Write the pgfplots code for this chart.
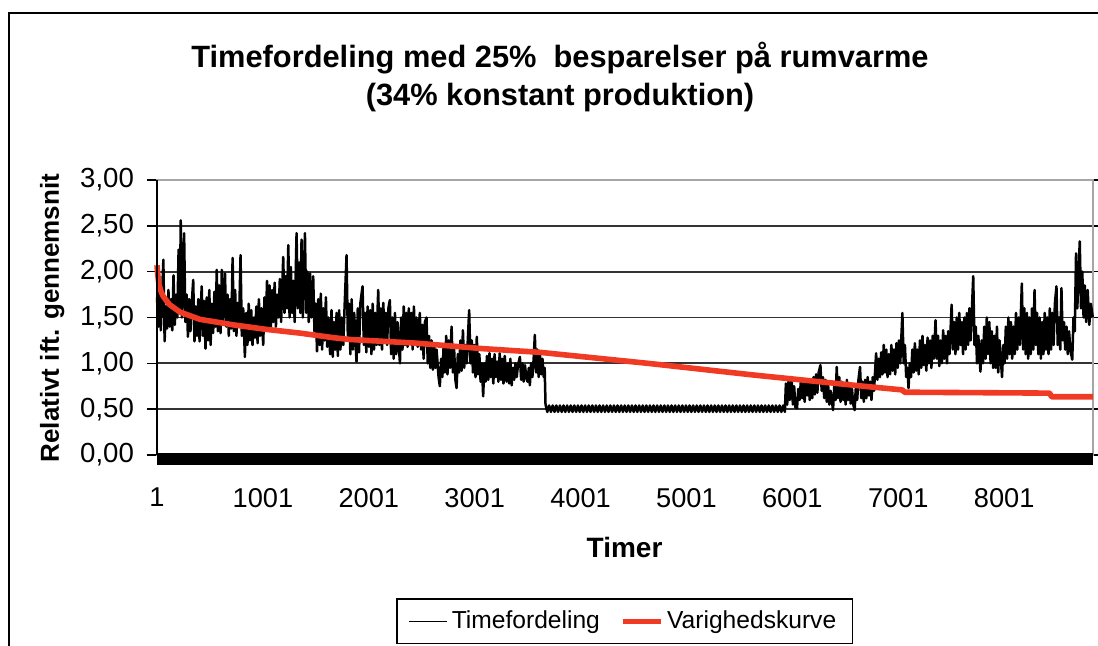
\documentclass[border=0pt]{standalone}
\usepackage{pgfplots}
\pgfplotsset{compat=1.18}
\usepackage{fontspec}
\setmainfont{Liberation Sans}
\definecolor{redc}{RGB}{240,58,36}
\begin{document}
\begin{tikzpicture}
\begin{axis}[
 at={(0,0)}, anchor=south west,
 scale only axis, width=468pt, height=137.5pt,
 xmin=1, xmax=8840, ymin=0, ymax=3,
 clip=false,
 xtick={1,1001,2001,3001,4001,5001,6001,7001,8001},
 ytick={0,0.5,1,1.5,2,2.5,3},
 ymajorgrids, grid style={black!80, line width=0.9pt},
 axis line style={black!35, line width=0.6pt},
 ytick align=outside,
 major tick length=5pt,
 ytick style={black, line width=0.7pt},
 xtick style={draw=none},
 y tick label style={/pgf/number format/.cd, fixed, fixed zerofill, precision=2, use comma, assume math mode=true, /tikz/.cd, font=\fontsize{13.8}{15}\selectfont, xshift=-3pt},
 x tick label style={/pgf/number format/.cd, 1000 sep={}, assume math mode=true, /tikz/.cd, font=\fontsize{13.6}{15}\selectfont, yshift=-13pt},
 xlabel={Timer},
 xlabel style={at={(axis description cs:0.4995,-0.336)}, anchor=center, font=\bfseries\fontsize{14}{16}\selectfont},
 ylabel={Relativt ift. gennemsnit},
 ylabel style={at={(axis description cs:-0.112,0.498)}, anchor=center, font=\bfseries\fontsize{13}{15}\selectfont},
 legend style={at={(axis description cs:0.4995,-0.605)}, anchor=center, draw=black, line width=0.7pt, font=\fontsize{12.3}{14}\selectfont, legend columns=2, /tikz/every even column/.append style={column sep=8pt}, inner xsep=6pt, inner ysep=4pt},
 legend cell align=left,
]
\addplot[black, line width=1.25pt, line join=round,
 legend image code/.code={\draw[black,line width=0.5pt](0pt,0pt)--(19pt,0pt);}]
coordinates {
(1,1.72)(13,1.40)(25,1.85)(37,1.36)(49,1.75)(61,2.13)(73,1.24)(85,1.62)(97,1.38)(109,1.80)(121,1.40)(133,1.70)(145,1.36)(157,1.96)(169,1.42)(181,1.75)(193,1.50)(205,2.24)(217,1.55)(225,2.56)(237,1.50)(249,2.00)(257,2.42)(269,1.45)(281,1.75)(293,1.29)(305,1.70)(317,1.35)(329,1.65)(343,1.91)(355,1.24)(367,1.62)(379,1.30)(391,1.70)(403,1.24)(415,1.60)(423,1.84)(435,1.30)(447,1.68)(459,1.16)(471,1.72)(483,1.25)(495,1.80)(507,1.20)(519,1.65)(531,1.33)(543,1.78)(555,1.40)(565,2.02)(577,1.35)(589,1.85)(601,1.33)(613,2.02)(625,1.45)(643,1.98)(655,1.40)(667,1.75)(679,1.30)(691,1.70)(703,1.38)(715,2.15)(727,1.35)(739,1.80)(751,1.30)(763,1.66)(775,1.40)(790,2.18)(802,1.30)(815,1.60)(831,1.07)(843,1.55)(855,1.20)(867,1.65)(879,1.25)(891,1.58)(903,1.20)(915,1.50)(927,1.28)(939,1.62)(951,1.22)(963,1.70)(975,1.30)(987,1.60)(1004,1.20)(1016,1.72)(1028,1.36)(1040,1.90)(1052,1.40)(1064,1.85)(1076,1.38)(1088,1.80)(1100,1.45)(1112,1.88)(1124,1.40)(1136,1.75)(1148,1.50)(1161,1.92)(1173,1.45)(1193,2.16)(1205,1.55)(1217,1.95)(1229,1.60)(1241,2.29)(1253,1.50)(1265,2.05)(1277,1.55)(1289,1.90)(1301,1.45)(1319,2.42)(1331,1.60)(1343,2.10)(1355,1.55)(1366,2.35)(1378,1.50)(1398,2.42)(1410,1.55)(1422,2.00)(1434,1.45)(1446,1.98)(1458,1.50)(1476,1.95)(1488,1.35)(1500,1.65)(1512,1.13)(1524,1.70)(1536,1.20)(1548,1.76)(1560,1.15)(1572,1.60)(1584,1.25)(1596,1.72)(1608,1.18)(1620,1.50)(1636,1.10)(1649,1.58)(1661,1.07)(1673,1.45)(1685,1.15)(1697,1.55)(1709,1.08)(1721,1.58)(1733,1.15)(1745,1.50)(1760,1.20)(1772,1.60)(1791,2.18)(1803,1.30)(1815,1.65)(1827,1.10)(1839,1.70)(1851,1.15)(1863,1.55)(1885,1.02)(1897,1.60)(1909,1.12)(1921,1.65)(1942,1.84)(1954,1.20)(1966,1.55)(1978,1.12)(1990,1.62)(2002,1.18)(2014,1.58)(2026,1.10)(2038,1.65)(2050,1.15)(2062,1.55)(2074,1.20)(2090,1.80)(2102,1.20)(2114,1.60)(2126,1.15)(2138,1.66)(2150,1.25)(2162,1.55)(2174,1.20)(2186,1.60)(2200,1.69)(2212,1.10)(2224,1.50)(2236,1.05)(2248,1.55)(2260,1.10)(2272,1.45)(2295,1.00)(2307,1.50)(2319,1.15)(2331,1.62)(2343,1.20)(2355,1.55)(2367,1.18)(2379,1.60)(2391,1.25)(2403,1.55)(2415,1.15)(2427,1.62)(2439,1.22)(2451,1.50)(2463,1.18)(2483,1.55)(2495,1.15)(2507,1.42)(2519,1.05)(2531,1.45)(2546,1.50)(2558,1.00)(2570,1.30)(2582,0.95)(2594,1.25)(2606,0.93)(2618,1.20)(2630,0.95)(2641,1.15)(2660,0.85)(2672,0.75)(2684,1.05)(2696,0.85)(2708,1.20)(2720,0.90)(2732,1.30)(2744,0.88)(2756,1.25)(2768,0.95)(2783,1.40)(2795,0.90)(2807,1.15)(2819,0.82)(2830,0.73)(2842,1.10)(2854,0.90)(2866,1.25)(2878,0.92)(2890,1.36)(2902,0.95)(2914,1.20)(2926,1.00)(2949,1.58)(2961,1.00)(2973,1.25)(2985,0.90)(2997,1.20)(3009,0.85)(3021,1.29)(3033,0.88)(3045,1.10)(3057,0.80)(3069,1.00)(3081,0.64)(3093,1.00)(3105,0.80)(3117,1.08)(3129,0.82)(3141,1.11)(3153,0.85)(3165,1.05)(3177,0.78)(3189,1.10)(3201,0.85)(3213,1.02)(3225,0.80)(3237,1.11)(3249,0.82)(3261,1.05)(3273,0.78)(3285,1.08)(3302,0.80)(3314,1.00)(3326,0.78)(3338,1.05)(3350,0.76)(3362,0.95)(3374,0.82)(3386,1.00)(3398,0.85)(3410,0.98)(3428,1.07)(3440,0.82)(3452,1.00)(3464,0.80)(3476,0.98)(3488,0.85)(3500,0.80)(3512,0.95)(3522,0.76)(3534,1.00)(3546,0.85)(3558,1.05)(3569,1.31)(3581,0.90)(3593,1.15)(3605,0.85)(3617,1.10)(3629,0.88)(3641,1.05)(3653,0.85)(3662,0.95)(3670,0.55)
(3687,0.47)(3704,0.54)(3721,0.47)(3738,0.54)(3755,0.47)(3772,0.54)(3789,0.47)(3806,0.54)(3823,0.47)(3840,0.54)(3857,0.47)(3874,0.54)(3891,0.47)(3908,0.54)(3925,0.47)(3942,0.54)(3959,0.47)(3976,0.54)(3993,0.47)(4010,0.54)(4027,0.47)(4044,0.54)(4061,0.47)(4078,0.54)(4095,0.47)(4112,0.54)(4129,0.47)(4146,0.54)(4163,0.47)(4180,0.54)(4197,0.47)(4214,0.54)(4231,0.47)(4248,0.54)(4265,0.47)(4282,0.54)(4299,0.47)(4316,0.54)(4333,0.47)(4350,0.54)(4367,0.47)(4384,0.54)(4401,0.47)(4418,0.54)(4435,0.47)(4452,0.54)(4469,0.47)(4486,0.54)(4503,0.47)(4520,0.54)(4537,0.47)(4554,0.54)(4571,0.47)(4588,0.54)(4605,0.47)(4622,0.54)(4639,0.47)(4656,0.54)(4673,0.47)(4690,0.54)(4707,0.47)(4724,0.54)(4741,0.47)(4758,0.54)(4775,0.47)(4792,0.54)(4809,0.47)(4826,0.54)(4843,0.47)(4860,0.54)(4877,0.47)(4894,0.54)(4911,0.47)(4928,0.54)(4945,0.47)(4962,0.54)(4979,0.47)(4996,0.54)(5013,0.47)(5030,0.54)(5047,0.47)(5064,0.54)(5081,0.47)(5098,0.54)(5115,0.47)(5132,0.54)(5149,0.47)(5166,0.54)(5183,0.47)(5200,0.54)(5217,0.47)(5234,0.54)(5251,0.47)(5268,0.54)(5285,0.47)(5302,0.54)(5319,0.47)(5336,0.54)(5353,0.47)(5370,0.54)(5387,0.47)(5404,0.54)(5421,0.47)(5438,0.54)(5455,0.47)(5472,0.54)(5489,0.47)(5506,0.54)(5523,0.47)(5540,0.54)(5557,0.47)(5574,0.54)(5591,0.47)(5608,0.54)(5625,0.47)(5642,0.54)(5659,0.47)(5676,0.54)(5693,0.47)(5710,0.54)(5727,0.47)(5744,0.54)(5761,0.47)(5778,0.54)(5795,0.47)(5812,0.54)(5829,0.47)(5846,0.54)(5863,0.47)(5880,0.54)(5897,0.47)(5914,0.54)(5930,0.47)
(5940,0.78)(5952,0.55)(5964,0.80)(5976,0.60)(5994,0.85)(6006,0.55)(6018,0.75)(6030,0.52)(6045,0.51)(6057,0.72)(6069,0.60)(6081,0.80)(6093,0.62)(6105,0.78)(6117,0.58)(6129,0.82)(6141,0.65)(6153,0.80)(6165,0.60)(6177,0.78)(6189,0.62)(6201,0.85)(6213,0.66)(6225,0.88)(6237,0.68)(6249,0.90)(6266,0.98)(6278,0.70)(6290,0.85)(6302,0.62)(6314,0.82)(6326,0.58)(6338,0.78)(6350,0.55)(6362,0.70)(6385,0.49)(6397,0.75)(6409,0.60)(6420,0.96)(6432,0.62)(6444,0.85)(6456,0.58)(6468,0.80)(6480,0.60)(6492,0.78)(6504,0.55)(6516,0.82)(6528,0.60)(6540,0.75)(6552,0.56)(6564,0.72)(6576,0.55)(6589,0.49)(6601,0.75)(6613,0.60)(6625,0.82)(6640,0.96)(6652,0.62)(6664,0.80)(6676,0.58)(6688,0.82)(6700,0.62)(6712,0.85)(6724,0.65)(6736,0.80)(6748,0.60)(6760,0.85)(6772,0.70)(6792,1.11)(6804,0.82)(6816,1.05)(6828,0.85)(6840,1.12)(6852,0.88)(6864,1.20)(6876,0.90)(6888,1.15)(6900,0.85)(6912,1.10)(6924,0.88)(6936,1.20)(6948,0.92)(6960,1.15)(6972,0.88)(6984,1.22)(6996,0.95)(7008,1.25)(7020,1.00)(7040,1.55)(7052,1.00)(7064,1.20)(7076,0.85)(7088,0.95)(7098,0.73)(7110,1.00)(7122,0.85)(7134,1.15)(7146,0.90)(7158,1.22)(7170,0.92)(7182,1.15)(7194,0.88)(7206,1.25)(7218,0.95)(7230,1.30)(7242,0.98)(7254,1.20)(7266,0.92)(7278,1.28)(7290,1.00)(7302,1.25)(7314,0.95)(7326,1.30)(7338,1.05)(7353,1.47)(7365,1.05)(7377,1.30)(7389,0.97)(7401,1.25)(7413,1.00)(7425,1.36)(7437,1.05)(7449,1.30)(7461,1.00)(7473,1.35)(7485,1.10)(7505,1.64)(7517,1.15)(7529,1.45)(7541,1.10)(7553,1.50)(7565,1.15)(7577,1.55)(7589,1.20)(7601,1.45)(7613,1.10)(7625,1.50)(7637,1.15)(7649,1.55)(7661,1.20)(7673,1.60)(7685,1.25)(7709,1.95)(7721,1.20)(7733,1.40)(7745,1.00)(7757,1.30)(7777,0.91)(7789,1.25)(7801,1.00)(7813,1.40)(7825,1.05)(7837,1.50)(7849,1.10)(7861,1.45)(7873,1.00)(7885,1.35)(7897,0.95)(7909,1.30)(7921,0.95)(7933,1.40)(7945,0.90)(7957,1.25)(7981,0.85)(7993,1.20)(8005,1.00)(8017,1.40)(8029,1.05)(8041,1.50)(8053,1.10)(8065,1.45)(8077,1.05)(8089,1.40)(8101,1.10)(8113,1.55)(8125,1.15)(8137,1.50)(8149,1.20)(8168,1.87)(8180,1.15)(8192,1.60)(8204,1.10)(8216,1.55)(8228,1.05)(8240,1.50)(8252,1.10)(8264,1.60)(8276,1.15)(8288,1.80)(8300,1.20)(8312,1.55)(8324,1.10)(8336,1.50)(8348,1.05)(8360,1.45)(8372,1.10)(8384,1.55)(8396,1.15)(8408,1.50)(8420,1.10)(8432,1.60)(8444,1.15)(8456,1.55)(8468,1.20)(8480,1.65)(8495,1.84)(8507,1.20)(8519,1.50)(8531,1.15)(8542,1.82)(8554,1.25)(8566,1.45)(8578,1.15)(8590,1.40)(8602,1.10)(8614,1.35)(8626,1.15)(8644,1.04)(8656,1.50)(8668,1.35)(8680,2.20)(8692,1.60)(8704,2.00)(8715,2.33)(8727,1.60)(8739,2.00)(8751,1.50)(8763,1.85)(8775,1.45)(8790,1.80)(8805,1.42)(8820,1.65)(8838,1.50)
};
\addlegendentry{Timefordeling}
\addplot[redc, line width=2.8pt, line join=round,
 legend image code/.code={\draw[redc,line width=2.6pt](0pt,0pt)--(19pt,0pt);}]
coordinates {(1,2.07)(8,1.97)(20,1.86)(40,1.78)(60,1.73)(120,1.64)(217,1.56)(406,1.48)(720,1.42)(1036,1.37)(1350,1.33)(1665,1.28)(1823,1.26)(2452,1.22)(3080,1.16)(3617,1.12)(4636,1.00)(5656,0.87)(6676,0.75)(7040,0.71)(7060,0.685)(8430,0.675)(8450,0.635)(8840,0.635)};
\addlegendentry{Varighedskurve}
\addplot[black, line width=6pt, forget plot] coordinates {(1,-0.045)(8840,-0.045)};
\draw[black, line width=0.9pt] (rel axis cs:0,0) -- (rel axis cs:0,1);
\end{axis}
\node[font=\bfseries\fontsize{15.4}{18}\selectfont] at (201.5pt,198.5pt) {Timefordeling med 25\%\ \ besparelser på rumvarme};
\node[font=\bfseries\fontsize{15.4}{18}\selectfont] at (201.5pt,178.5pt) {(34\% konstant produktion)};
\draw[black, line width=1pt] (-74pt,-120pt) -- (-74pt,221pt) -- (500pt,221pt);
\pgfresetboundingbox
\path[use as bounding box] (-78.5pt,-95.5pt) rectangle (470.5pt,227.5pt);
\end{tikzpicture}
\end{document}
